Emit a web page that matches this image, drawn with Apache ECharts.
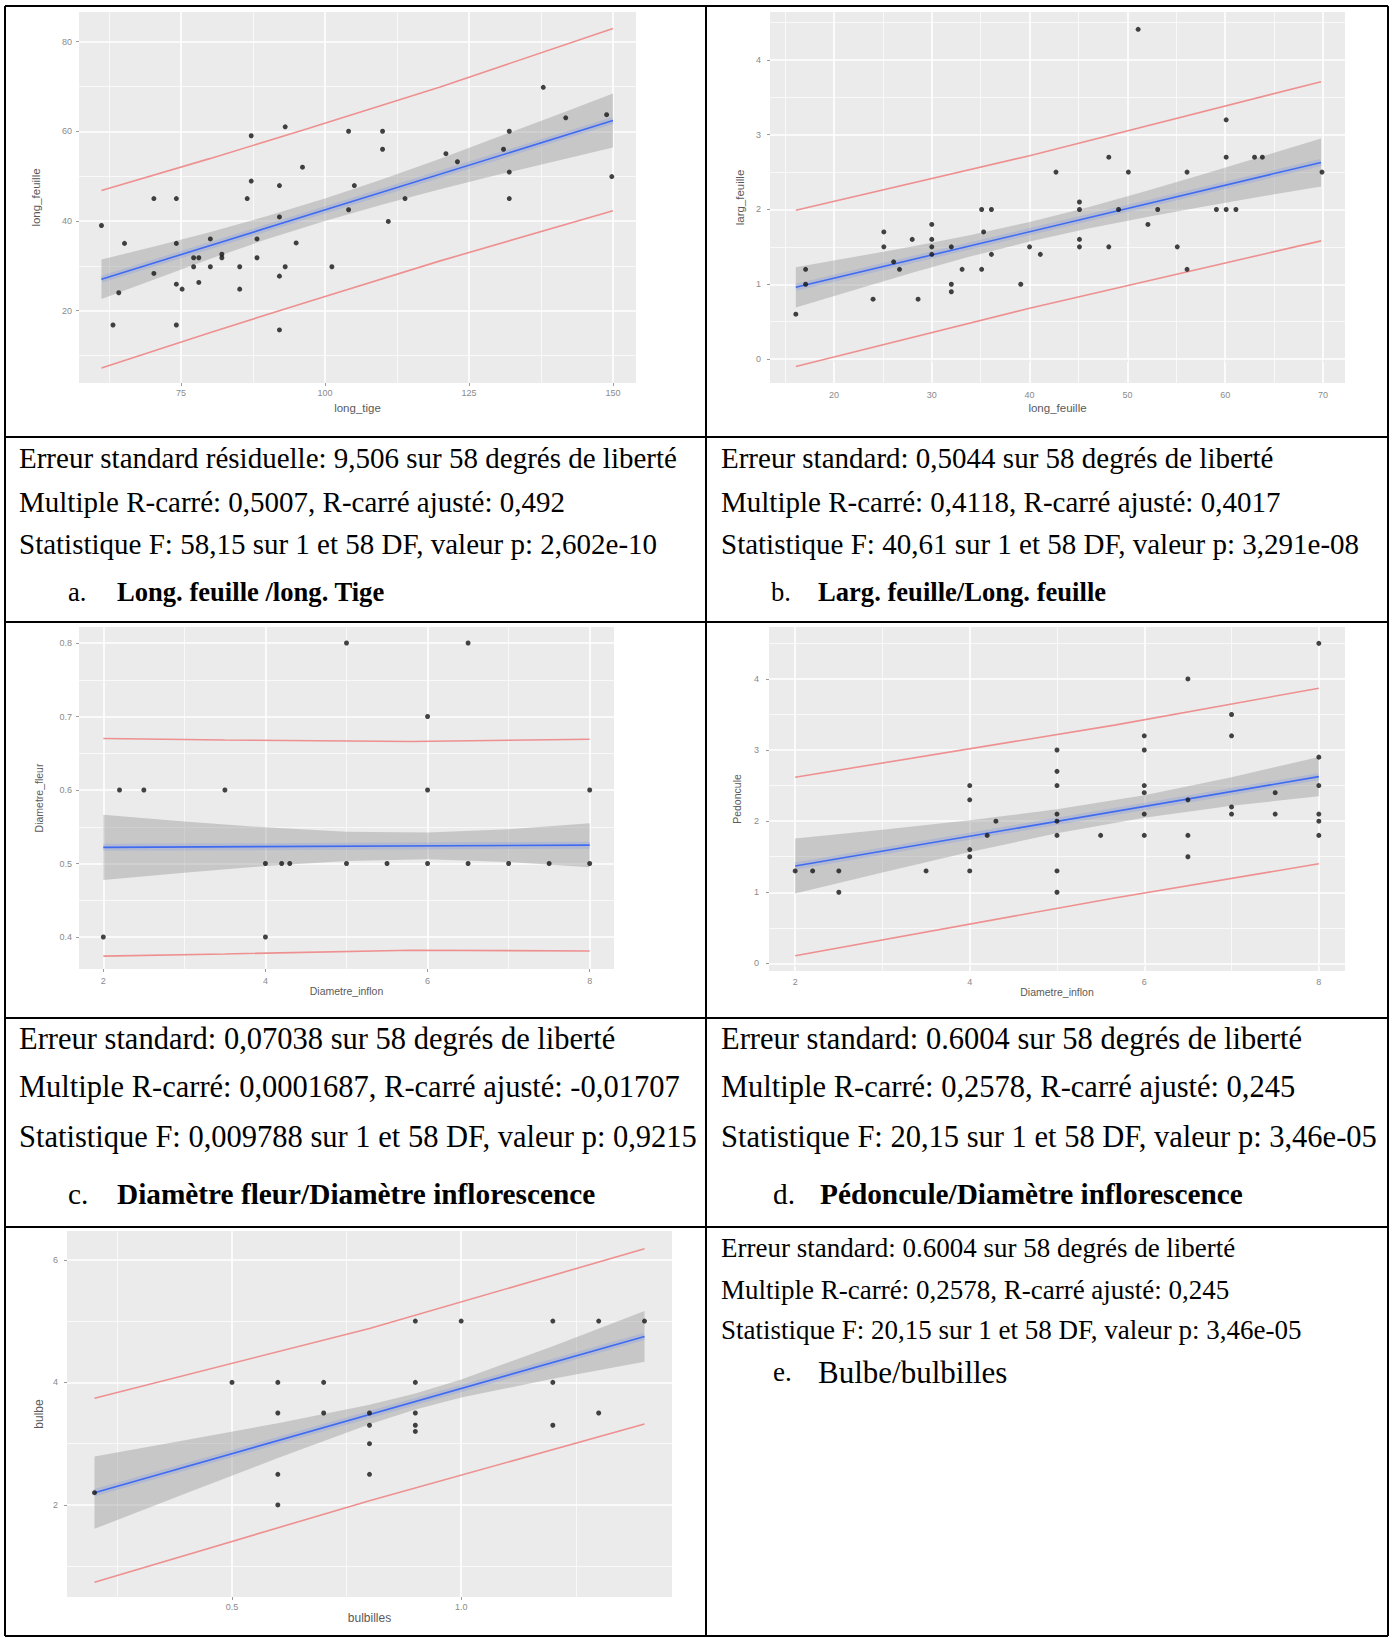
<!DOCTYPE html>
<html><head><meta charset="utf-8">
<script src="https://cdn.jsdelivr.net/npm/echarts@6/dist/echarts.min.js"></script>
<style>html,body{margin:0;padding:0;background:#fff}#c{width:1394px;height:1638px}</style>
</head><body><div id="c"></div>
<script>
// ---------- Panel a : long_feuille ~ long_tige ----------
const aPoints = [[61.2,39],[63.2,16.8],[64.2,24],[65.2,35],[70.3,45],[70.3,28.3],[74.2,45],[74.2,35],[74.2,25.9],[74.2,16.8],[75.2,24.8],[77.2,31.8],[78.1,31.8],[77.2,29.8],[78.1,26.3],[80.1,36],[80.1,29.8],[82.1,32.6],[82.1,31.8],[85.2,29.8],[85.2,24.8],[86.5,45],[87.2,48.9],[87.2,59],[88.2,36],[88.2,31.8],[92.1,47.9],[92.1,40.9],[92.1,27.7],[92.1,15.7],[93.1,61],[93.1,29.8],[95,35.1],[96.1,52],[101.2,29.8],[104.1,60],[104.1,42.5],[105.1,47.9],[110,60],[110,56],[111,39.9],[113.9,45],[121,55],[123,53.2],[131,56],[132,60],[132,50.9],[132,45],[137.9,69.8],[141.8,63],[148.9,63.7],[149.8,49.9]];
const aFitX = [61.2, 150];
const aFitY = [27.0, 62.4];
const aBandX = [61.2,70,80,90,100,110,120,130,140,150];
const aBandHi = [31.4,34.2,37.5,41.1,45.0,49.3,53.9,58.7,63.5,68.4];
const aBandLo = [22.6,26.8,31.5,36.0,40.0,43.7,47.1,50.3,53.3,56.4];
const aPredX = [61.2,80,96.8,120,150];
const aPredHi = [46.8,53.9,60.5,69.9,82.9];
const aPredLo = [7.2,15.1,21.9,31.1,42.3];
const aXTicks = [75,100,125,150];
const aYTicks = [20,40,60,80];
const aXMinor = [62.5,87.5,112.5,137.5];
const aYMinor = [10,30,50,70];

// ---------- Panel b : larg_feuille ~ long_feuille ----------
const bPoints = [[16.1,0.6],[17.1,1.2],[17.1,1.0],[24,0.8],[25.1,1.7],[25.1,1.5],[26.1,1.3],[26.7,1.2],[28,1.6],[28.6,0.8],[30,1.8],[30,1.6],[30,1.5],[30,1.4],[32,1.5],[32,1.0],[32,0.9],[33.1,1.2],[35.1,2.0],[35.1,1.2],[35.3,1.7],[36.1,2.0],[36.1,1.4],[39.1,1.0],[40,1.5],[41.1,1.4],[42.7,2.5],[45.1,2.1],[45.1,2.0],[45.1,1.6],[45.1,1.5],[48.1,2.7],[48.1,1.5],[49.1,2.0],[50.1,2.5],[51.1,4.41],[52.1,1.8],[53.1,2.0],[55.1,1.5],[56.1,2.5],[56.1,1.2],[59.1,2.0],[60.1,3.2],[60.1,2.7],[60.1,2.0],[61.1,2.0],[63.0,2.7],[63.8,2.7],[69.9,2.5]];
const bFitX = [16.1, 69.8];
const bFitY = [0.959, 2.63];
const bBandX = [16.1,22,28,34,40,46,52,58,64,69.8];
const bBandHi = [1.229,1.363,1.505,1.659,1.832,2.031,2.250,2.481,2.718,2.949];
const bBandLo = [0.689,0.921,1.153,1.373,1.572,1.747,1.900,2.043,2.180,2.309];
const bPredX = [16.1,40,69.8];
const bPredHi = [1.99,2.72,3.71];
const bPredLo = [-0.10,0.68,1.58];
const bXTicks = [20,30,40,50,60,70];
const bYTicks = [0,1,2,3,4];
const bXMinor = [15,25,35,45,55,65];
const bYMinor = [0.5,1.5,2.5,3.5,4.5];

// ---------- Panel c : Diametre_fleur ~ Diametre_inflon ----------
const cPoints = [[2,0.4],[2.2,0.6],[2.5,0.6],[3.5,0.6],[4,0.5],[4,0.4],[4.2,0.5],[4.3,0.5],[5,0.8],[5,0.5],[5.5,0.5],[6,0.7],[6,0.6],[6,0.5],[6.5,0.8],[6.5,0.5],[7,0.5],[7.5,0.5],[8,0.6],[8,0.5]];
const cFitX = [2, 8];
const cFitY = [0.522, 0.525];
const cBandX = [2,3,4,5,6,7,8];
const cBandHi = [0.5665,0.5572,0.5492,0.5433,0.5421,0.5468,0.5549];
const cBandLo = [0.4775,0.4874,0.4966,0.5035,0.5059,0.5022,0.4951];
const cPredX = [2,3.5,5.8,8];
const cPredHi = [0.670,0.668,0.666,0.669];
const cPredLo = [0.374,0.377,0.382,0.381];
const cXTicks = [2,4,6,8];
const cYTicks = [0.4,0.5,0.6,0.7,0.8];
const cXMinor = [3,5,7];
const cYMinor = [0.45,0.55,0.65,0.75];

// ---------- Panel d : Pedoncule ~ Diametre_inflon ----------
const dPoints = [[2,1.3],[2.2,1.3],[2.5,1.3],[2.5,1.0],[3.5,1.3],[4,2.5],[4,2.3],[4,1.6],[4,1.5],[4,1.3],[4.2,1.8],[4.3,2.0],[5,3.0],[5,2.7],[5,2.5],[5,2.1],[5,2.0],[5,1.8],[5,1.3],[5,1.0],[5.5,1.8],[6,3.2],[6,3.0],[6,2.5],[6,2.4],[6,2.1],[6,1.8],[6.5,4.0],[6.5,2.3],[6.5,1.8],[6.5,1.5],[7,3.5],[7,3.2],[7,2.2],[7,2.1],[7.5,2.4],[7.5,2.1],[8,4.5],[8,2.9],[8,2.5],[8,2.1],[8,2.0],[8,1.8]];
const dFitX = [2, 8];
const dFitY = [1.369, 2.626];
const dBandX = [2,3,4,5,6,7,8];
const dBandHi = [1.756,1.880,2.011,2.166,2.365,2.619,2.901];
const dBandLo = [0.982,1.278,1.565,1.830,2.049,2.215,2.351];
const dPredX = [2,5.66,8];
const dPredHi = [2.617,3.35,3.869];
const dPredLo = [0.108,0.92,1.40];
const dXTicks = [2,4,6,8];
const dYTicks = [0,1,2,3,4];
const dXMinor = [3,5,7];
const dYMinor = [0.5,1.5,2.5,3.5,4.5];

// ---------- Panel e : bulbe ~ bulbilles ----------
const ePoints = [[0.2,2.2],[0.5,4.0],[0.6,4.0],[0.6,3.5],[0.6,2.5],[0.6,2.0],[0.7,4.0],[0.7,3.5],[0.8,3.5],[0.8,3.3],[0.8,3.0],[0.8,2.5],[0.9,5.0],[0.9,4.0],[0.9,3.5],[0.9,3.3],[0.9,3.2],[1.0,5.0],[1.2,5.0],[1.2,4.0],[1.2,3.3],[1.3,5.0],[1.3,3.5],[1.4,5.0]];
const eFitX = [0.2, 1.4];
const eFitY = [2.2, 4.75];
const eBandX = [0.2,0.4,0.6,0.8,0.9,1.0,1.2,1.4];
const eBandHi = [2.790,3.059,3.334,3.634,3.818,4.048,4.591,5.165];
const eBandLo = [1.610,2.191,2.766,3.316,3.557,3.752,4.059,4.335];
const ePredX = [0.2,0.8,1.4];
const ePredHi = [3.74,4.88,6.18];
const ePredLo = [0.74,2.07,3.32];
const eXTicks = [0.5,1.0];
const eYTicks = [2,4,6];
const eXMinor = [0.25,0.75,1.25];
const eYMinor = [1,3,5];

// ---------- Table texts ----------
const row2Left = ["Erreur standard résiduelle: 9,506 sur 58 degrés de liberté","Multiple R-carré: 0,5007, R-carré ajusté: 0,492","Statistique F: 58,15 sur 1 et 58 DF, valeur p: 2,602e-10"];
const row2Right = ["Erreur standard: 0,5044 sur 58 degrés de liberté","Multiple R-carré: 0,4118, R-carré ajusté: 0,4017","Statistique F: 40,61 sur 1 et 58 DF, valeur p: 3,291e-08"];
const row4Left = ["Erreur standard: 0,07038 sur 58 degrés de liberté","Multiple R-carré: 0,0001687, R-carré ajusté: -0,01707","Statistique F: 0,009788 sur 1 et 58 DF, valeur p: 0,9215"];
const row4Right = ["Erreur standard: 0.6004 sur 58 degrés de liberté","Multiple R-carré: 0,2578, R-carré ajusté: 0,245","Statistique F: 20,15 sur 1 et 58 DF, valeur p: 3,46e-05"];
const row5Right = ["Erreur standard: 0.6004 sur 58 degrés de liberté","Multiple R-carré: 0,2578, R-carré ajusté: 0,245","Statistique F: 20,15 sur 1 et 58 DF, valeur p: 3,46e-05"];
const captionLetters = ["a.","b.","c.","d.","e."];
const captionTitles = ["Long. feuille /long. Tige","Larg. feuille/Long. feuille","Diamètre fleur/Diamètre inflorescence","Pédoncule/Diamètre inflorescence","Bulbe/bulbilles"];

// ---------- layout (positions/styles) ----------
const panels = [
  {pts:aPoints, fx:aFitX, fy:aFitY, bx:aBandX, bh:aBandHi, bl:aBandLo, px:aPredX, ph:aPredHi, pl:aPredLo, xt:aXTicks, yt:aYTicks, xm:aXMinor, ym:aYMinor,
   grid:{left:79, top:12, width:557, height:371}, xr:[57.3,154.0], yr:[3.87,86.6], xName:'long_tige', yName:'long_feuille', xDec:0, yDec:0, xGap:19, yGap:37, xMargin:5, yMargin:7, nameSize:11.5},
  {pts:bPoints, fx:bFitX, fy:bFitY, bx:bBandX, bh:bBandHi, bl:bBandLo, px:bPredX, ph:bPredHi, pl:bPredLo, xt:bXTicks, yt:bYTicks, xm:bXMinor, ym:bYMinor,
   grid:{left:770, top:12, width:575, height:371}, xr:[13.46,72.25], yr:[-0.321,4.642], xName:'long_feuille', yName:'larg_feuille', xDec:0, yDec:0, xGap:19, yGap:24, xMargin:7, yMargin:9, nameSize:11.5},
  {pts:cPoints, fx:cFitX, fy:cFitY, bx:cBandX, bh:cBandHi, bl:cBandLo, px:cPredX, ph:cPredHi, pl:cPredLo, xt:cXTicks, yt:cYTicks, xm:cXMinor, ym:cYMinor,
   grid:{left:79, top:627, width:535, height:342}, xr:[1.7,8.3], yr:[0.3565,0.8218], xName:'Diametre_inflon', yName:'Diametre_fleur', xDec:0, yDec:1, xGap:16, yGap:35, xMargin:7, yMargin:7, nameSize:10.5},
  {pts:dPoints, fx:dFitX, fy:dFitY, bx:dBandX, bh:dBandHi, bl:dBandLo, px:dPredX, ph:dPredHi, pl:dPredLo, xt:dXTicks, yt:dYTicks, xm:dXMinor, ym:dYMinor,
   grid:{left:769, top:627, width:576, height:344}, xr:[1.7,8.3], yr:[-0.107,4.73], xName:'Diametre_inflon', yName:'Pedoncule', xDec:0, yDec:0, xGap:15, yGap:27, xMargin:6, yMargin:10, nameSize:10.5},
  {pts:ePoints, fx:eFitX, fy:eFitY, bx:eBandX, bh:eBandHi, bl:eBandLo, px:ePredX, ph:ePredHi, pl:ePredLo, xt:eXTicks, yt:eYTicks, xm:eXMinor, ym:eYMinor,
   grid:{left:67, top:1231, width:605, height:366}, xr:[0.14,1.46], yr:[0.498,6.47], xName:'bulbilles', yName:'bulbe', xDec:1, yDec:0, xGap:14, yGap:22, xMargin:5, yMargin:9, nameSize:12}
];

const grids = [], xAxes = [], yAxes = [], series = [];
panels.forEach(function(p, i){
  grids.push(Object.assign({show:true, backgroundColor:'#EBEBEB', borderWidth:0, containLabel:false, outerBoundsMode:'none'}, p.grid));
  const tickStyle = {show:true, length:3, lineStyle:{color:'#9b9b9b', width:1}};
  xAxes.push({type:'value', gridIndex:i, min:p.xr[0], max:p.xr[1],
    axisLine:{show:false}, splitLine:{show:false},
    axisTick:Object.assign({customValues:p.xt}, tickStyle),
    axisLabel:{customValues:p.xt, margin:p.xMargin, color:'#8a8a8a', fontSize:9, fontFamily:'Liberation Sans',
      formatter:(function(d){return function(v){return Number(v).toFixed(d);};})(p.xDec)},
    name:p.xName, nameLocation:'middle', nameGap:p.xGap,
    nameTextStyle:{color:'#5a5a5a', fontSize:p.nameSize, fontFamily:'Liberation Sans'}});
  yAxes.push({type:'value', gridIndex:i, min:p.yr[0], max:p.yr[1],
    axisLine:{show:false}, splitLine:{show:false},
    axisTick:Object.assign({customValues:p.yt}, tickStyle),
    axisLabel:{customValues:p.yt, margin:p.yMargin, color:'#8a8a8a', fontSize:9, fontFamily:'Liberation Sans',
      formatter:(function(d){return function(v){return Number(v).toFixed(d);};})(p.yDec)},
    name:p.yName, nameLocation:'middle', nameGap:p.yGap,
    nameTextStyle:{color:'#5a5a5a', fontSize:p.nameSize, fontFamily:'Liberation Sans'}});

  const gl = [];
  p.xm.forEach(function(v){ gl.push({xAxis:v, lineStyle:{color:'#F9F9F9', width:1, type:'solid'}}); });
  p.ym.forEach(function(v){ gl.push({yAxis:v, lineStyle:{color:'#F9F9F9', width:1, type:'solid'}}); });
  p.xt.forEach(function(v){ gl.push({xAxis:v, lineStyle:{color:'#FFFFFF', width:1.6, type:'solid'}}); });
  p.yt.forEach(function(v){ gl.push({yAxis:v, lineStyle:{color:'#FFFFFF', width:1.6, type:'solid'}}); });

  // confidence band
  const bx = p.bx, bh = p.bh, bl = p.bl;
  series.push({type:'custom', xAxisIndex:i, yAxisIndex:i, z:2, silent:true,
    data: bx.map(function(x,k){return [x, bl[k], bh[k]];}),
    encode:{x:0, y:[1,2]},
    renderItem:function(params, api){
      if (params.dataIndex !== 0) return null;
      const pts = [];
      for (let k=0;k<bx.length;k++) pts.push(api.coord([bx[k], bh[k]]));
      for (let k=bx.length-1;k>=0;k--) pts.push(api.coord([bx[k], bl[k]]));
      return {type:'polygon', shape:{points:pts}, style:{fill:'rgba(150,150,150,0.42)'}, silent:true};
    },
    markLine:{silent:true, symbol:'none', z:1, animation:false, label:{show:false}, emphasis:{disabled:true}, data:gl}
  });
  // fitted line (halo + line)
  const fit = p.fx.map(function(x,k){return [x, p.fy[k]];});
  series.push({type:'line', xAxisIndex:i, yAxisIndex:i, z:3, data:fit, showSymbol:false, silent:true,
    lineStyle:{color:'rgba(70,110,255,0.16)', width:7}});
  series.push({type:'line', xAxisIndex:i, yAxisIndex:i, z:4, data:fit, showSymbol:false, silent:true,
    lineStyle:{color:'#3F6BF0', width:1.6}});
  // prediction lines
  series.push({type:'line', xAxisIndex:i, yAxisIndex:i, z:4, data:p.px.map(function(x,k){return [x,p.ph[k]];}), showSymbol:false, silent:true,
    lineStyle:{color:'#EE9090', width:1.6}});
  series.push({type:'line', xAxisIndex:i, yAxisIndex:i, z:4, data:p.px.map(function(x,k){return [x,p.pl[k]];}), showSymbol:false, silent:true,
    lineStyle:{color:'#EE9090', width:1.6}});
  // points
  series.push({type:'scatter', xAxisIndex:i, yAxisIndex:i, z:5, data:p.pts, symbolSize:5, silent:true,
    itemStyle:{color:'#141414'}});
});

// ---------- table graphics ----------
const G = [];
function ln(x1,y1,x2,y2){ G.push({type:'line', silent:true, shape:{x1:x1,y1:y1,x2:x2,y2:y2}, style:{stroke:'#000', lineWidth:2}}); }
function tx(x,y,s,size,weight){ G.push({type:'text', silent:true, x:x, y:y,
  style:{text:s, fill:'#000', font:(weight||'normal')+' '+size+'px "Liberation Serif", "Times New Roman", serif',
         textAlign:'left', textVerticalAlign:'middle', align:'left', verticalAlign:'middle'}}); }
const L = 5, R = 1388, T = 6, B = 1636, M = 706;
ln(L,T,R,T); ln(L,B,R,B); ln(L,T,L,B); ln(R,T,R,B); ln(M,T,M,B);
[437,622,1018,1227].forEach(function(y){ ln(L,y,R,y); });

const r2y = [458,502,544], r4y = [1039,1087,1137], r5y = [1248,1290,1330];
row2Left.forEach(function(s,k){ tx(19, r2y[k], s, 29); });
row2Right.forEach(function(s,k){ tx(721, r2y[k], s, 29); });
row4Left.forEach(function(s,k){ tx(19, r4y[k], s, 30.5); });
row4Right.forEach(function(s,k){ tx(721, r4y[k], s, 30.5); });
row5Right.forEach(function(s,k){ tx(721, r5y[k], s, 27); });
tx(68, 592, captionLetters[0], 26.6); tx(117, 592, captionTitles[0], 26.6, 'bold');
tx(771, 592, captionLetters[1], 26.6); tx(818, 592, captionTitles[1], 26.6, 'bold');
tx(68, 1194, captionLetters[2], 29.3); tx(117, 1194, captionTitles[2], 29.3, 'bold');
tx(773, 1194, captionLetters[3], 29.3); tx(820, 1194, captionTitles[3], 29.3, 'bold');
tx(773, 1372, captionLetters[4], 27); tx(818, 1372, captionTitles[4], 31);

const chart = echarts.init(document.getElementById('c'), null, {renderer:'svg', width:1394, height:1638});
chart.setOption({
  animation:false,
  backgroundColor:'#ffffff',
  grid:grids, xAxis:xAxes, yAxis:yAxes, series:series, graphic:G
});
</script>
</body></html>
